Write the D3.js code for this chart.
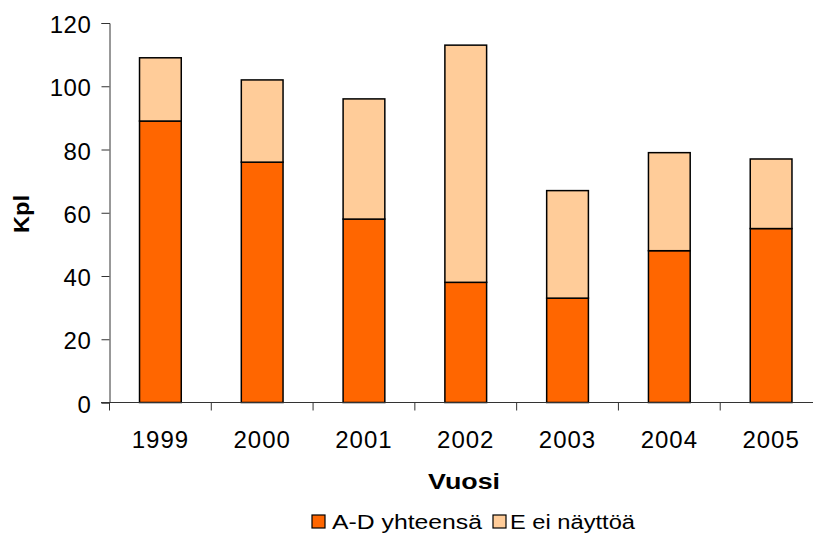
<!DOCTYPE html>
<html>
<head>
<meta charset="utf-8">
<script src="https://cdn.jsdelivr.net/npm/d3@7"></script>
<style>
  html, body { margin: 0; padding: 0; background: #fff; }
  svg { display: block; font-family: "Liberation Sans", Arial, sans-serif; }
</style>
</head>
<body>
<svg id="chart" width="813" height="534"></svg>
<script>
// Yearly counts, stacked: A-D total at the bottom, E without evidence on top
const years = ["1999", "2000", "2001", "2002", "2003", "2004", "2005"];
const adTotal = [89, 76, 58, 38, 33, 48, 55];
const eNoEvidence = [20, 26, 38, 75, 34, 31, 22];
const yTicks = [0, 20, 40, 60, 80, 100, 120];
const seriesNames = ["A-D yhteensä", "E ei näyttöä"];
const seriesColors = ["#FF6600", "#FFCC99"];

const svg = d3.select("#chart");
const FONT = "'Liberation Sans', Arial, sans-serif";

const x = d3.scaleBand()
  .domain(years)
  .range([109.5, 822])
  .paddingInner(0.59)
  .paddingOuter(0.295);

const y = d3.scaleLinear()
  .domain([0, 120])
  .range([402.5, 23]);

const rows = years.map((yr, i) => ({ year: yr, ad: adTotal[i], e: eNoEvidence[i] }));
const stacked = d3.stack().keys(["ad", "e"])(rows);

// Bars
svg.append("g")
  .selectAll("g")
  .data(stacked)
  .join("g")
  .attr("fill", (d, i) => seriesColors[i])
  .selectAll("rect")
  .data(d => d)
  .join("rect")
  .attr("x", d => x(d.data.year))
  .attr("y", d => y(d[1]))
  .attr("width", x.bandwidth())
  .attr("height", d => y(d[0]) - y(d[1]))
  .attr("stroke", "#000")
  .attr("stroke-width", 1.5);

// Y axis
const yAxis = svg.append("g")
  .attr("transform", "translate(109.5,0)")
  .call(d3.axisLeft(y).tickValues(yTicks).tickSize(8).tickPadding(10).tickFormat(d3.format("d")));
yAxis.select(".domain").attr("stroke", "#333");
yAxis.selectAll(".tick line").attr("stroke", "#333");
yAxis.selectAll(".tick text")
  .attr("font-size", 24)
  .attr("fill", "#000")
  .attr("dy", "0.4em")
  .style("letter-spacing", "0.6px")
  .style("font-family", FONT);

// X axis: ticks sit on the band boundaries
const xAxis = svg.append("g")
  .attr("transform", "translate(0,402.5)");
xAxis.append("line")
  .attr("x1", 101).attr("x2", 813)
  .attr("stroke", "#333");
const boundaries = years.map(yr => x(yr) - x.step() * x.paddingOuter());
xAxis.selectAll("line.tk")
  .data(boundaries)
  .join("line")
  .attr("class", "tk")
  .attr("x1", d => d).attr("x2", d => d)
  .attr("y1", 0).attr("y2", 8)
  .attr("stroke", "#333");
xAxis.selectAll("text")
  .data(years)
  .join("text")
  .attr("x", d => x(d) + x.bandwidth() / 2)
  .attr("y", 45.5)
  .attr("text-anchor", "middle")
  .attr("font-size", 24)
  .style("font-family", FONT)
  .style("letter-spacing", "1px")
  .text(d => d);

// Axis titles
svg.append("text")
  .attr("x", 464)
  .attr("y", 489)
  .attr("text-anchor", "middle")
  .attr("font-size", 22)
  .attr("font-weight", "bold")
  .style("font-family", FONT)
  .attr("textLength", 72)
  .attr("lengthAdjust", "spacingAndGlyphs")
  .text("Vuosi");

svg.append("text")
  .attr("transform", "translate(29,214) rotate(-90)")
  .attr("text-anchor", "middle")
  .attr("font-size", 22)
  .attr("font-weight", "bold")
  .style("font-family", FONT)
  .attr("textLength", 38)
  .attr("lengthAdjust", "spacingAndGlyphs")
  .text("Kpl");

// Legend
const legendItems = [
  { name: seriesNames[0], color: seriesColors[0], sx: 312, tx: 332, tw: 150 },
  { name: seriesNames[1], color: seriesColors[1], sx: 493, tx: 510, tw: 125 }
];
const legend = svg.append("g");
legend.selectAll("rect")
  .data(legendItems)
  .join("rect")
  .attr("x", d => d.sx)
  .attr("y", 515)
  .attr("width", 13)
  .attr("height", 13)
  .attr("fill", d => d.color)
  .attr("stroke", "#000")
  .attr("stroke-width", 1.2);
legend.selectAll("text")
  .data(legendItems)
  .join("text")
  .attr("x", d => d.tx)
  .attr("y", 529)
  .attr("font-size", 20)
  .style("font-family", FONT)
  .attr("textLength", d => d.tw)
  .attr("lengthAdjust", "spacingAndGlyphs")
  .text(d => d.name);
</script>
</body>
</html>
